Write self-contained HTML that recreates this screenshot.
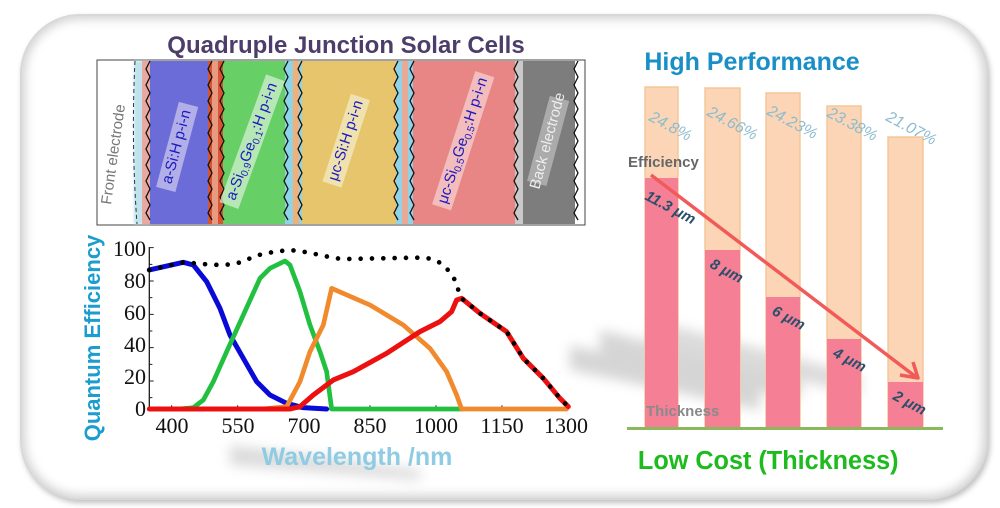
<!DOCTYPE html>
<html><head><meta charset="utf-8"><style>
html,body{margin:0;padding:0;background:#fff;}
body{width:1000px;height:508px;overflow:hidden;position:relative;font-family:"Liberation Sans",sans-serif;}
.frame{position:absolute;left:20px;top:14px;width:964px;height:482px;border-radius:60px;border:2px solid #d8d8d8;box-shadow:0 0 10px 3px rgba(120,120,120,.35) inset, 2px 3px 6px rgba(0,0,0,.25);background:#fff;}
</style></head><body>
<div class="frame"></div>
<svg width="1000" height="508" style="position:absolute;left:0;top:0" xmlns="http://www.w3.org/2000/svg">
<defs>
<filter id="bl" x="-20%" y="-20%" width="140%" height="140%"><feGaussianBlur stdDeviation="6"/></filter>
<filter id="bl2"><feGaussianBlur stdDeviation="1.2"/></filter>
</defs>
<g opacity="0.3" filter="url(#bl)">
<polygon points="570,345 760,390 760,410 570,370" fill="#777"/>
<polygon points="600,330 800,380 800,400 600,355" fill="#777"/>
<polygon points="650,320 860,375 860,395 650,345" fill="#888"/>
<polygon points="230,445 420,470 420,480 230,465" fill="#888"/>
</g>
<text x="346" y="53" text-anchor="middle" font-size="24" font-weight="bold" fill="#4c3d6b">Quadruple Junction Solar Cells</text>
<rect x="97" y="60" width="488" height="165" fill="#fff" stroke="#444" stroke-width="1"/>
<rect x="134" y="61" width="16" height="163" fill="#bfe3ee" filter="url(#bl2)"/>
<rect x="142" y="61" width="10" height="163" fill="#e9a9a0"/>
<rect x="150" y="61" width="62" height="163" fill="#6b6cd8"/>
<rect x="208" y="61" width="17" height="163" fill="#d9542f"/>
<rect x="212" y="61" width="6" height="163" fill="#e79b80"/>
<rect x="223" y="61" width="64" height="163" fill="#66cf66"/>
<rect x="285" y="61" width="18" height="163" fill="#8fd3e6"/>
<rect x="293" y="61" width="6" height="163" fill="#f0b07a"/>
<rect x="302" y="61" width="96" height="163" fill="#e7c56c"/>
<rect x="396" y="61" width="18" height="163" fill="#8fd3e6"/>
<rect x="402" y="61" width="6" height="163" fill="#eaa897"/>
<rect x="413" y="61" width="104" height="163" fill="#e88585"/>
<rect x="515" y="61" width="9" height="163" fill="#c9c9c9"/>
<rect x="523" y="61" width="52" height="163" fill="#7d7d7d"/>
<g fill="none" stroke="#111" stroke-width="1.3">
<path d="M150,61 l-4,8 4,8 -4,8 4,8 -4,8 4,8 -4,8 4,8 -4,8 4,8 -4,8 4,8 -4,8 4,8 -4,8 4,8 -4,8 4,8 -4,8 4,7"/>
<path d="M212,61 l-4,8 4,8 -4,8 4,8 -4,8 4,8 -4,8 4,8 -4,8 4,8 -4,8 4,8 -4,8 4,8 -4,8 4,8 -4,8 4,8 -4,8 4,7"/>
<path d="M224,61 l-4,8 4,8 -4,8 4,8 -4,8 4,8 -4,8 4,8 -4,8 4,8 -4,8 4,8 -4,8 4,8 -4,8 4,8 -4,8 4,8 -4,8 4,7"/>
<path d="M288,61 l-4,8 4,8 -4,8 4,8 -4,8 4,8 -4,8 4,8 -4,8 4,8 -4,8 4,8 -4,8 4,8 -4,8 4,8 -4,8 4,8 -4,8 4,7"/>
<path d="M302,61 l-4,8 4,8 -4,8 4,8 -4,8 4,8 -4,8 4,8 -4,8 4,8 -4,8 4,8 -4,8 4,8 -4,8 4,8 -4,8 4,8 -4,8 4,7"/>
<path d="M398,61 l-4,8 4,8 -4,8 4,8 -4,8 4,8 -4,8 4,8 -4,8 4,8 -4,8 4,8 -4,8 4,8 -4,8 4,8 -4,8 4,8 -4,8 4,7"/>
<path d="M414,61 l-4,8 4,8 -4,8 4,8 -4,8 4,8 -4,8 4,8 -4,8 4,8 -4,8 4,8 -4,8 4,8 -4,8 4,8 -4,8 4,8 -4,8 4,7"/>
<path d="M518,61 l-4,8 4,8 -4,8 4,8 -4,8 4,8 -4,8 4,8 -4,8 4,8 -4,8 4,8 -4,8 4,8 -4,8 4,8 -4,8 4,8 -4,8 4,7"/>
<path d="M578,61 l-4,8 4,8 -4,8 4,8 -4,8 4,8 -4,8 4,8 -4,8 4,8 -4,8 4,8 -4,8 4,8 -4,8 4,8 -4,8 4,8 -4,8 4,7"/>
</g>
<path d="M135,61 q-4,80 2,163" stroke="#333" stroke-dasharray="4 3" fill="none"/>
<g font-size="15" text-anchor="middle">
<text transform="translate(118,155) rotate(-82)" fill="#777">Front electrode</text>
<g transform="translate(181,148) rotate(-75)"><rect x="-44" y="-14" width="88" height="20" fill="#c9c6ee" opacity=".75"/><text fill="#1a1ac0">a-Si:H p-i-n</text></g>
<g transform="translate(256,143) rotate(-70)"><rect x="-68" y="-14" width="136" height="20" fill="#d2efcf" opacity=".75"/><text fill="#1a1ac0">a-Si<tspan font-size="10" dy="3">0.9</tspan><tspan dy="-3">Ge</tspan><tspan font-size="10" dy="3">0.1</tspan><tspan dy="-3">:H p-i-n</tspan></text></g>
<g transform="translate(350,142) rotate(-72)"><rect x="-46" y="-14" width="92" height="20" fill="#f3ebc6" opacity=".75"/><text fill="#1a1ac0">μc-Si:H p-i-n</text></g>
<g transform="translate(467,142) rotate(-72)"><rect x="-70" y="-14" width="140" height="20" fill="#f6d0cf" opacity=".75"/><text fill="#1a1ac0">μc-Si<tspan font-size="10" dy="3">0.5</tspan><tspan dy="-3">Ge</tspan><tspan font-size="10" dy="3">0.5</tspan><tspan dy="-3">:H p-i-n</tspan></text></g>
<g transform="translate(552,142) rotate(-75)"><rect x="-44" y="-14" width="88" height="20" fill="#bbb" opacity=".75"/><text fill="#eee">Back electrode</text></g>
</g>
<text transform="translate(100,338) rotate(-90)" text-anchor="middle" font-size="22" font-weight="bold" fill="#1b9dcf">Quantum Efficiency</text>
<text x="357" y="465" text-anchor="middle" font-size="25" font-weight="bold" fill="#8fcbe3">Wavelength /nm</text>
<g font-family="Liberation Serif,serif" font-size="22" fill="#111">
<g text-anchor="end"><text x="146" y="256">100</text><text x="146" y="288">80</text><text x="146" y="320">60</text><text x="146" y="352">40</text><text x="146" y="384">20</text><text x="146" y="416">0</text></g>
<g text-anchor="middle"><text x="172" y="433">400</text><text x="238" y="433">550</text><text x="304" y="433">700</text><text x="370" y="433">850</text><text x="436" y="433">1000</text><text x="502" y="433">1150</text><text x="566" y="433">1300</text></g>
</g>
<g transform="translate(70,225) scale(0.3333)" fill="none" stroke-linejoin="round" stroke-linecap="round">
<path d="M238,552 L1495,552 M238,552 L238,68" stroke="#222" stroke-width="4"/>
<path d="M238,68 h12 M238,118 h8 M238,168 h12 M238,218 h8 M238,268 h12 M238,318 h8 M238,368 h12 M238,418 h8 M238,468 h12 M238,518 h8" stroke="#222" stroke-width="3"/>
<path d="M305,552 v-10 M503,552 v-10 M700,552 v-10 M900,552 v-10 M1098,552 v-10 M1296,552 v-10 M1495,552 v-10" stroke="#222" stroke-width="3"/>
<path d="M238,135 L340,112 L370,120 L410,170 L450,250 L480,330 L520,400 L560,470 L600,510 L650,535 L700,548 L770,552" stroke="#0a0ad8" stroke-width="15"/>
<path d="M330,552 L370,548 L400,525 L430,470 L470,380 L520,270 L570,160 L600,130 L645,108 L660,120 L690,200 L720,300 L750,380 L770,440 L785,552 L1180,552" stroke="#22c040" stroke-width="14"/>
<path d="M580,552 L650,545 L690,470 L720,380 L760,300 L785,190 L900,240 L1000,300 L1080,370 L1130,440 L1160,510 L1175,552 L1490,552" stroke="#f08a2c" stroke-width="14"/>
<path d="M238,552 L660,552 L690,545 L730,510 L790,465 L850,440 L950,385 L1050,320 L1110,290 L1145,260 L1160,225 L1175,220 L1230,265 L1310,320 L1360,400 L1420,460 L1470,520 L1495,545" stroke="#ec1010" stroke-width="15"/>
<path d="M238,135 L340,112 L410,118 L450,120 L485,118 L520,110 L550,95 L585,85 L620,80 L655,75 L690,78 L725,85 L760,92 L795,100 L830,102 L1040,98 L1075,100 L1105,110 L1130,130 L1155,165 L1165,195 L1175,220 L1230,265 L1310,320 L1360,400 L1420,460 L1470,520 L1495,545" stroke="#000" stroke-width="14" stroke-dasharray="0 34"/>
</g>
<text x="752" y="70" text-anchor="middle" font-size="25" font-weight="bold" fill="#1a8fc7">High Performance</text>
<g fill="#fbd5b5" stroke="#f5c79a" stroke-width="1.5">
<rect x="645" y="87" width="33" height="341"/><rect x="705" y="88" width="35" height="340"/><rect x="766" y="93" width="34" height="335"/><rect x="827" y="106" width="34" height="322"/><rect x="888" y="137" width="35" height="291"/>
</g>
<g fill="#f57f95">
<rect x="645" y="178" width="33" height="250"/><rect x="705" y="250" width="35" height="178"/><rect x="766" y="297" width="34" height="131"/><rect x="827" y="339" width="34" height="89"/><rect x="888" y="382" width="35" height="46"/>
</g>
<rect x="627" y="427" width="316" height="3" fill="#8bb85a"/>
<g font-size="16" fill="#8cbccf" font-style="italic">
<text transform="translate(648,120) rotate(28)">24.8%</text>
<text transform="translate(706,115) rotate(28)">24.66%</text>
<text transform="translate(766,114) rotate(28)">24.23%</text>
<text transform="translate(826,116) rotate(28)">23.38%</text>
<text transform="translate(885,120) rotate(28)">21.07%</text>
</g>
<text x="628" y="167" font-size="15" font-weight="bold" fill="#666">Efficiency</text>
<text x="646" y="416" font-size="15" font-weight="bold" fill="#8a8a8a">Thickness</text>
<g font-size="15" font-weight="bold" font-style="italic" fill="#2a4f6c">
<text transform="translate(644,199) rotate(28)">11.3 μm</text>
<text transform="translate(709,267) rotate(28)">8 μm</text>
<text transform="translate(771,314) rotate(28)">6 μm</text>
<text transform="translate(832,356) rotate(28)">4 μm</text>
<text transform="translate(892,399) rotate(28)">2 μm</text>
</g>
<path d="M651,175 L916,377" stroke="#f25a5a" stroke-width="3.5" fill="none"/>
<path d="M900,375 L918,378 L913,362" stroke="#f25a5a" stroke-width="3.5" fill="none" stroke-linejoin="round"/>
<text x="768" y="469" text-anchor="middle" font-size="26" font-weight="bold" fill="#1dbb1d" transform="scale(0.97,1) translate(24,0)">Low Cost (Thickness)</text>
</svg>
</body></html>
